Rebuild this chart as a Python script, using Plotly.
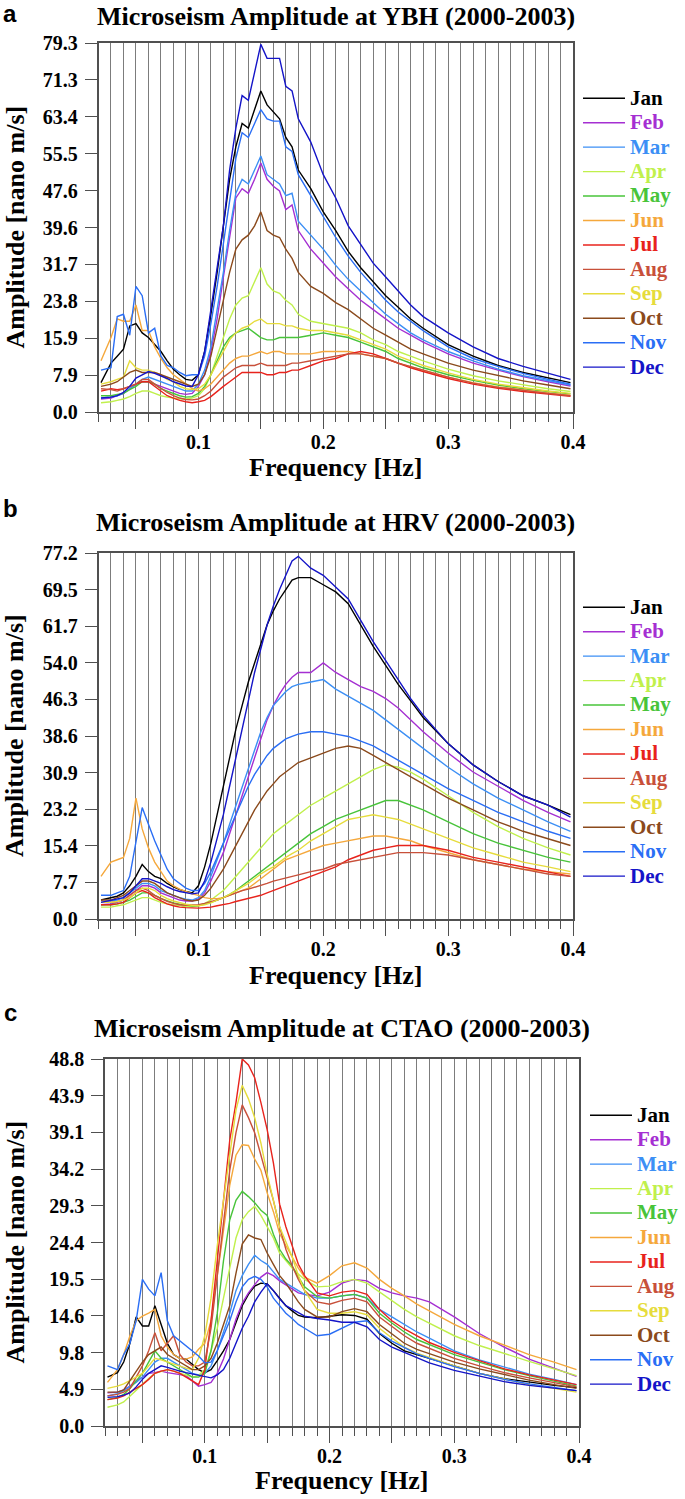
import plotly.graph_objects as go

# ---------------- data ----------------
FREQ = [0.022, 0.03, 0.035, 0.04, 0.045, 0.05, 0.055, 0.06, 0.065, 0.07, 0.075, 0.08, 0.085, 0.09, 0.095,
        0.1, 0.105, 0.11, 0.115, 0.12, 0.125, 0.13, 0.135, 0.14, 0.145, 0.15, 0.155, 0.16, 0.165, 0.17, 0.175, 0.18,
        0.19, 0.2, 0.21, 0.22, 0.23, 0.24, 0.25, 0.26, 0.27, 0.28,
        0.3, 0.32, 0.34, 0.36, 0.38, 0.398]

MONTHS = ["Jan", "Feb", "Mar", "Apr", "May", "Jun", "Jul", "Aug", "Sep", "Oct", "Nov", "Dec"]
COLORS = ["#000000", "#a52fd2", "#3c8ff5", "#c0f04c", "#48c43a", "#f5a83c",
          "#e8231c", "#c8503a", "#e6dc3c", "#8b4a1c", "#2a6ef5", "#1414c8"]

TITLES = ["Microseism Amplitude at YBH (2000-2003)",
          "Microseism Amplitude at HRV (2000-2003)",
          "Microseism Amplitude at CTAO (2000-2003)"]
PANEL_LETTERS = ["a", "b", "c"]
Y_MAX = [79.3, 77.2, 48.8]
YBH_YTICKS = ["0.0", "7.9", "15.9", "23.8", "31.7", "39.6", "47.6", "55.5", "63.4", "71.3", "79.3"]
HRV_YTICKS = ["0.0", "7.7", "15.4", "23.2", "30.9", "38.6", "46.3", "54.0", "61.7", "69.5", "77.2"]
CTAO_YTICKS = ["0.0", "4.9", "9.8", "14.6", "19.5", "24.4", "29.3", "34.2", "39.1", "43.9", "48.8"]
X_TICK_VALUES = [0.05, 0.1, 0.15, 0.2, 0.25, 0.3, 0.35, 0.4]
X_TICK_TEXT = ["", "0.1", "", "0.2", "", "0.3", "", "0.4"]
X_TITLE = "Frequency [Hz]"
Y_TITLE = "Amplitude [nano m/s]"

# YBH
ybh_jan = [6.3, 10.5, 12, 13.5, 18.5, 19, 17, 16, 14.5, 13, 11, 9.2, 8, 7, 6.8,
           8, 13, 21, 30, 40, 50, 57, 62, 61, 65, 69, 66, 64.5, 63, 59, 57, 52,
           48, 43, 39, 34.5, 31, 28, 25, 22.5, 20, 18,
           14.5, 12, 10, 8.5, 7.3, 6.3]
ybh_feb = [2.8, 3, 3.5, 4, 5, 6, 6.5, 6.5, 6, 5.5, 5, 4.5, 4, 3.8, 4,
           5.5, 8, 13, 20, 29, 38, 46, 48, 47, 50, 53.5, 50, 48.5, 47.5, 43.5, 44.5, 39,
           35, 32, 29, 26.5, 24, 22, 20, 18, 16.5, 15,
           12.5, 10.5, 9, 7.6, 6.5, 5.6]
ybh_mar = [3, 3.2, 3.5, 4, 5, 6, 7, 7.5, 7, 6.5, 6, 5.5, 5, 4.5, 4.5,
           6, 9, 14, 22, 30, 39, 47, 50, 49, 52, 55, 51, 50, 49, 46.5, 47, 41,
           38, 35, 31.5, 28.5, 26, 23.5, 21, 19, 17, 15.5,
           13, 11, 9.2, 7.8, 6.7, 5.8]
ybh_apr = [2, 2.2, 2.5, 2.8, 3.3, 4, 4.5, 4.5, 4, 3.5, 3.2, 3, 2.8, 2.8, 3,
           3.5, 5, 8, 12, 16, 20, 23, 24.5, 25, 28, 31, 27.5, 26, 25.5, 24, 23, 21,
           19.5, 19, 18.5, 18, 17, 15.5, 14.5, 13, 12, 11,
           9.2, 7.8, 6.7, 5.8, 5, 4.4]
ybh_may = [3.5, 3.5, 3.8, 4, 4.8, 5.5, 6.5, 6.5, 6, 5, 4.5, 4, 3.5, 3.2, 3.3,
           4, 5.5, 8, 11, 14, 16, 17, 17.5, 18, 17, 16, 15.5, 15.5, 16, 16, 16, 16,
           16.5, 17, 16.5, 16, 15, 14, 13, 11.5, 10.5, 9.5,
           8, 6.8, 5.8, 5, 4.4, 3.9]
ybh_jun = [11, 16, 20, 19.5, 19.5, 23, 17.5, 17.5, 14, 11.5, 9.5, 8, 7, 6, 5,
           4.5, 5, 6, 7.5, 9, 10.5, 11.5, 12, 12, 12.5, 13, 12.5, 13, 13, 12.5, 12.5, 12.5,
           12.5, 13, 13, 13, 12.5, 12, 11.5, 10.5, 9.8, 9,
           7.5, 6.3, 5.4, 4.7, 4.1, 3.6]
ybh_jul = [4.5, 5, 4.8, 5, 5.5, 6, 6.5, 6.5, 5.5, 4.5, 3.5, 3, 2.5, 2.2, 2,
           2.2, 2.5, 3.3, 4.5, 5.5, 6.5, 7.5, 8.5, 8.5, 8.5, 8.5, 8, 8, 8.5, 8.5, 9, 9,
           10, 11, 11.5, 12.5, 13, 12.5, 11.5, 10.5, 9.5, 8.7,
           7.2, 6, 5.1, 4.4, 3.9, 3.4]
ybh_aug = [5, 4.8, 4.5, 5, 5.5, 6, 7, 7, 6, 5, 4.2, 3.5, 3, 2.7, 2.6,
           2.8, 3.5, 4.5, 6, 7.5, 8.5, 9.5, 10, 10, 10, 10.5, 10, 10, 10, 10, 10.5, 10.5,
           11, 11.5, 12, 12.5, 12.5, 12, 11.5, 10.5, 9.7, 9,
           7.5, 6.2, 5.3, 4.6, 4, 3.5]
ybh_sep = [6, 6.5, 7, 7.5, 11, 9.5, 9, 9, 8.5, 8, 7, 6.5, 5.5, 5, 4.8,
           5, 6, 8, 10.5, 13, 15.5, 17, 18, 18.5, 19.5, 20, 19, 19, 19, 18.5, 18.5, 18,
           17.5, 17.5, 17, 16.5, 15.5, 14.5, 13.5, 12, 11, 10,
           8.4, 7, 6, 5.2, 4.5, 4]
ybh_oct = [5.5, 6, 6.5, 7.5, 8.5, 9, 8.5, 8.5, 8.5, 8, 7.5, 7, 6.5, 6, 5.5,
           6, 8, 12, 18, 24, 30, 35, 37, 38, 40, 43, 39, 38, 37.5, 35, 33, 30,
           27, 25.5, 23.5, 22, 20, 18, 16.5, 15, 13.5, 12.5,
           10.5, 9, 7.8, 6.7, 5.8, 5]
ybh_nov = [9, 9.5, 20.5, 21, 16.5, 27, 25, 17, 18, 12, 10, 9.5, 8.5, 7.8, 8,
           8, 12, 19, 27, 36, 46, 54.5, 60, 59, 62, 65, 63, 62.5, 62.5, 57, 56, 51,
           46.5, 42, 37.5, 33.5, 30, 27, 24, 21.5, 19.5, 17.5,
           14, 11.5, 9.8, 8.3, 7, 6]
ybh_dec = [3, 3.2, 3.5, 4.2, 5.5, 7.3, 8, 8.7, 8.3, 7.8, 7.2, 6.5, 6, 5.6, 5.5,
           8, 13, 22, 31, 40, 52, 61, 68, 67, 73, 79, 76, 76, 76, 70, 69, 63,
           58, 51, 46, 40, 36, 32, 29, 26, 23, 20.5,
           17, 14, 11.5, 9.8, 8.3, 7]

# HRV
hrv_jan = [4, 4.5, 4.8, 5.5, 7, 9, 11.5, 10, 9, 8.5, 7.5, 6.8, 6.2, 5.8, 5.5,
           7, 11, 16, 22, 28, 34, 40, 45, 50, 54, 58, 62, 65, 67.5, 69.5, 71.5, 72,
           72, 70.5, 69, 66.5, 62, 57.5, 53.5, 49.5, 46, 42.5,
           37, 32.5, 29, 26, 24, 22]
hrv_feb = [3, 3.2, 3.5, 4, 5, 6, 7, 7, 6.5, 5.5, 5, 4.5, 4, 3.8, 3.8,
           4.2, 5.5, 8, 11, 14, 18, 22, 26, 30, 34, 38, 42, 45, 47.5, 49.5, 51, 52,
           52, 54, 52, 50.5, 49, 48, 46.5, 44.5, 42, 39.5,
           35, 31, 28, 25, 22.5, 20.5]
hrv_mar = [3.5, 3.8, 4, 4.5, 5.5, 6.5, 7.5, 7.5, 7, 6, 5.5, 5, 4.5, 4.2, 4,
           4.5, 6, 9, 12.5, 16, 20, 24, 28, 32, 36, 39.5, 42.5, 45, 46.5, 48, 49, 49.5,
           50, 50.5, 48.5, 47, 45.5, 44, 42, 40, 38, 36,
           32, 28.5, 25.5, 23, 20.5, 18.5]
hrv_apr = [2.5, 2.5, 2.8, 3, 3.5, 4, 4.5, 4.5, 4, 3.5, 3.2, 3, 2.8, 2.6, 2.6,
           2.8, 3.3, 4, 5, 6, 7.5, 9, 10.5, 12, 13.5, 15, 16.5, 18, 19, 20, 21, 22,
           24, 25.5, 27, 28.5, 30, 31.5, 32.5, 32, 31, 29.5,
           26, 22.5, 19.5, 17, 15, 13.5]
hrv_may = [3, 3, 3.2, 3.5, 4, 4.8, 5.5, 5.5, 5, 4.3, 3.8, 3.4, 3.1, 2.9, 2.8,
           2.8, 3.1, 3.5, 4, 4.5, 5.2, 6, 7, 8, 9, 10, 11, 12, 13, 14, 15, 16,
           18, 19.5, 21, 22, 23, 24, 25, 25, 24, 23,
           20.5, 18, 16, 14.5, 13, 12]
hrv_jun = [9, 12, 12.5, 13, 17, 25.5, 19, 15, 12, 10, 8, 7, 6.3, 5.8, 5.3,
           5, 4.5, 4.3, 4.3, 4.5, 5, 5.5, 6, 6.5, 7.5, 8.5, 9.5, 10.5, 11.5, 12.5, 13, 13.5,
           14.5, 15.5, 16, 16.5, 17, 17.5, 17.5, 17, 16.5, 15.5,
           14, 12.5, 11.5, 10.5, 10, 9.5]
hrv_jul = [3, 3, 3.2, 3.5, 4.5, 5.5, 6, 5.5, 4.5, 3.8, 3.2, 2.8, 2.5, 2.4, 2.3,
           2.3, 2.4, 2.5, 2.8, 3, 3.3, 3.7, 4, 4.3, 4.7, 5, 5.5, 6, 6.5, 7, 7.5, 8,
           9, 10, 11, 12.5, 13.5, 14.5, 15, 15.5, 15.5, 15.5,
           14.5, 13, 12, 11, 10, 9]
hrv_aug = [3.5, 3.5, 3.7, 4, 5, 6, 6.5, 6, 5, 4.3, 3.7, 3.3, 3, 2.9, 2.9,
           3, 3.3, 3.6, 4, 4.5, 5, 5.5, 6, 6.3, 6.7, 7, 7.5, 8, 8.3, 8.7, 9, 9.3,
           10, 10.5, 11.5, 12, 12.5, 13, 13.5, 14, 14, 14,
           13.5, 12.5, 11.5, 10.5, 9.5, 9]
hrv_sep = [3.5, 3.5, 3.7, 4, 4.5, 5.5, 6.5, 6.5, 6, 5, 4.3, 3.8, 3.4, 3.1, 2.9,
           2.8, 3, 3.4, 4, 4.5, 5.2, 6, 6.8, 7.5, 8.5, 9.5, 10.3, 11, 12, 13, 13.8, 14.5,
           16.5, 18, 19.5, 21, 21.5, 22, 21.5, 21, 20, 19,
           17, 15, 13.5, 12, 11, 10]
hrv_oct = [4, 4, 4.5, 5, 6, 7, 8, 8, 7.5, 6.5, 5.5, 5, 4.5, 4, 3.8,
           4, 5, 6.5, 8.5, 10.5, 13, 15.5, 18, 20.5, 23, 25, 27, 28.5, 30, 31, 32, 33,
           34, 35, 36, 36.5, 36, 34.5, 33, 31.5, 30, 28.5,
           25.5, 23, 20.5, 18.5, 17, 15.5]
hrv_nov = [5, 5, 5.5, 6, 9, 16, 23.5, 20, 16.5, 13.5, 10.5, 8.5, 7.5, 6.5, 6,
           6, 7.5, 10, 13, 16, 19, 22, 25, 28, 30.5, 32.5, 34.5, 36, 37, 38, 38.5, 39,
           39.5, 39.5, 39, 38.5, 37.5, 36.5, 35, 33.5, 32, 30.5,
           27.5, 25, 22.5, 20.5, 18.5, 17]
hrv_dec = [3.5, 4, 4.2, 4.5, 5.5, 7, 8.5, 8.5, 8, 7.5, 6.8, 6.2, 5.8, 5.5, 5.3,
           5.5, 8, 12, 17, 22, 28, 34, 40, 46, 52, 57, 62, 66, 69.5, 72.5, 75.5, 76.5,
           74, 72.5, 70, 67.5, 63, 58.5, 54.5, 50.5, 46.5, 43,
           37, 32.5, 29, 26, 24, 21.5]

# CTAO
ctao_jan = [6.5, 7.1, 8.5, 11, 14.5, 13.3, 13.3, 16, 13.5, 11, 9.5, 9, 8.9, 8.2, 7.5,
            7.1, 7.5, 8.7, 10, 11.5, 13.8, 16, 17.5, 18.6, 19, 18.9, 18, 17, 16, 15.3, 14.7, 14.5,
            14.4, 14.6, 14.8, 14.7, 14.2, 12.3, 11, 10, 9.5, 9,
            8, 7, 6.3, 5.8, 5.4, 5.1]
ctao_feb = [4.4, 4.5, 4.8, 5.3, 6, 6.5, 7, 7.1, 7.3, 7.1, 7, 6.9, 6.7, 6, 5.3,
            5.5, 5.8, 7, 8.9, 11.5, 14.2, 16.3, 17.7, 18.8, 19.8, 20.4, 20, 19.3, 18.8, 18.2, 17.7, 17.5,
            17.3, 17.8, 19, 19.5, 19.3, 18.3, 17.7, 17.3, 17, 16.5,
            14.5, 12.3, 10.5, 8.9, 7.7, 6.6]
ctao_mar = [4, 4.3, 4.7, 5.2, 5.8, 6.5, 7.5, 8.5, 9, 9, 8.5, 8, 7.5, 7, 6.8,
            7, 8, 10, 12.5, 15, 18, 20, 21.5, 22.7, 22, 21.5, 20.5, 19.5, 19, 18.5, 18, 17.5,
            17, 17, 17.3, 17.5, 17, 15.5, 14.5, 13.5, 12.5, 11.7,
            10, 8.8, 7.8, 6.9, 6.2, 5.5]
ctao_apr = [2.5, 2.8, 3.2, 4, 4.7, 5.5, 6.3, 7, 7.3, 7.5, 7.3, 7, 6.8, 6.5, 6.7,
            7.5, 10, 13, 17, 21, 25, 27.4, 28.5, 29.2, 28, 26.5, 25, 23, 22, 21, 20.2, 19.5,
            18.5, 18.6, 19.2, 19.5, 19, 17.8, 16.6, 15.5, 14.5, 13.7,
            12, 10.7, 9.6, 8.6, 7.6, 6.7]
ctao_may = [3.5, 3.8, 4.2, 5, 6, 7, 8.5, 10, 9, 8.5, 8, 7.5, 7, 6.5, 6.5,
            7, 10, 15, 22, 27.4, 30, 31.2, 30.5, 29.7, 28.7, 28, 25.5, 23.5, 22.2, 21.3, 19.8, 18.5,
            17.2, 17, 17.3, 17.5, 17, 15, 13.7, 12.5, 11.5, 10.8,
            9.5, 8.5, 7.5, 6.7, 6, 5.3]
ctao_jun = [5.8, 7.5, 9.5, 12, 14, 14.6, 15, 15.5, 12, 10.5, 9.5, 9, 8.9, 9.2, 10.2,
            11, 14, 20, 26.5, 32, 36, 37.4, 37.3, 35.5, 34, 31, 28.5, 25.6, 24, 22.5, 21, 19.8,
            19, 20, 21.3, 21.7, 21, 19.5, 18.3, 17.3, 16.2, 15.3,
            13.5, 12, 10.7, 9.5, 8.5, 7.5]
ctao_jul = [3.5, 3.7, 4, 4.5, 5, 5.5, 6.2, 7, 7.3, 7.5, 7.3, 7, 6.5, 6, 5.5,
            7.5, 14, 22, 30, 38, 43, 48.8, 48, 46.3, 43, 39.4, 35, 29.5, 26.5, 24, 21.5, 20,
            17.7, 17.3, 17.8, 18, 17.5, 15.5, 14, 12.9, 12, 11.1,
            9.8, 8.7, 7.6, 6.8, 6.1, 5.5]
ctao_aug = [4, 4.2, 4.5, 5, 6.5, 8, 10, 12.4, 10, 11, 12, 9.5, 8.5, 8, 8,
            8.5, 13, 20, 27, 34, 39, 42.7, 41, 39, 36, 33, 30, 26.5, 23.5, 21.3, 19.5, 18,
            16.5, 16.2, 16.7, 17, 16.5, 14.5, 13.2, 12, 11, 10.3,
            9, 8, 7.1, 6.4, 5.8, 5.2]
ctao_sep = [5, 5.3, 5.6, 6, 6.5, 7, 8, 9, 8.8, 8.5, 8.2, 8, 7.7, 7.5, 9,
            12, 17, 24, 30, 36, 42, 45.3, 43.5, 41, 37.6, 33.5, 30, 26.5, 24.5, 22.5, 20, 18,
            15.5, 15, 15, 15.2, 14.8, 13, 11.7, 10.5, 9.7, 9.1,
            8, 7, 6.2, 5.5, 5, 4.5]
ctao_oct = [4.5, 4.5, 4.8, 6, 7.2, 8.5, 9.5, 10, 10.5, 9.5, 9, 8.5, 8, 7.5, 7.5,
            8, 9, 11, 13.5, 16, 20.3, 24.2, 25.4, 25, 24.8, 23, 21.5, 20, 19, 17.7, 16.5, 15.5,
            14.5, 14.5, 15.2, 15.6, 15.2, 13.5, 12.2, 11, 10.2, 9.6,
            8.5, 7.6, 6.8, 6.1, 5.5, 5]
ctao_nov = [8, 7.5, 9.5, 11, 14, 19.5, 18.2, 17.3, 20.4, 14, 12, 11.3, 10.6, 10, 9.3,
            8.4, 8.5, 10, 12, 14, 16.5, 18.5, 19.5, 19.9, 19.5, 18.5, 17, 16, 15, 14.3, 13.5, 13,
            12, 12.2, 13, 13.8, 14, 12.4, 11.3, 10.5, 9.6, 9,
            7.9, 7, 6.2, 5.6, 5.1, 4.7]
ctao_dec = [3.8, 3.9, 4.1, 4.4, 5.2, 6.2, 7, 7.5, 8, 7.8, 7.5, 7.3, 7.1, 6.9, 6.7,
            6.5, 6.4, 6.8, 7.5, 9, 11, 13, 14.6, 16.5, 17.8, 18.9, 18, 16.9, 16, 15.5, 15, 14.6,
            14.3, 14.1, 13.8, 13.8, 13.2, 11.5, 10.5, 9.8, 9, 8.4,
            7.4, 6.6, 5.9, 5.4, 5, 4.7]

YBH = [ybh_jan, ybh_feb, ybh_mar, ybh_apr, ybh_may, ybh_jun, ybh_jul, ybh_aug, ybh_sep, ybh_oct, ybh_nov, ybh_dec]
HRV = [hrv_jan, hrv_feb, hrv_mar, hrv_apr, hrv_may, hrv_jun, hrv_jul, hrv_aug, hrv_sep, hrv_oct, hrv_nov, hrv_dec]
CTAO = [ctao_jan, ctao_feb, ctao_mar, ctao_apr, ctao_may, ctao_jun, ctao_jul, ctao_aug, ctao_sep, ctao_oct, ctao_nov, ctao_dec]
SERIES = [YBH, HRV, CTAO]
YTICKS = [YBH_YTICKS, HRV_YTICKS, CTAO_YTICKS]

for station in SERIES:
    for s in station:
        assert len(s) == len(FREQ), len(s)

# ---------------- layout geometry (pixels, page coordinates) ----------------
W, H = 685, 1499
SERIF = "Liberation Serif, Times New Roman, serif"
SANS = "Liberation Sans, Arial, sans-serif"
GRID = "#7c7c7c"
AXC = "#505050"

# plot boxes: left, right, top, bottom
BOXES = [(98.5, 573.0, 43.0, 412.0),
         (98.5, 573.0, 553.0, 919.0),
         (105.0, 579.0, 1059.0, 1426.0)]
LEGEND_POS = [(578, 81), (578, 590), (585, 1098)]
TITLE_Y = [16, 522, 1028]
LETTER_Y = [14, 508, 1012]
XTITLE_Y = [467, 975, 1480]


def px(x):
    return x / W


def py(y):
    return 1 - y / H


fig = go.Figure()
layout = dict(width=W, height=H, autosize=False,
              margin=dict(l=0, r=0, t=0, b=0, pad=0, autoexpand=False),
              paper_bgcolor="white", plot_bgcolor="white", annotations=[])

for i in range(3):
    n = "" if i == 0 else str(i + 1)
    xa, ya = "x" + n, "y" + n
    lg = "legend" + n
    for m, c, vals in zip(MONTHS, COLORS, SERIES[i]):
        fig.add_trace(go.Scatter(
            x=FREQ, y=vals, mode="lines", xaxis=xa, yaxis=ya, legend=lg,
            line=dict(color=c, width=1.4),
            name="<span style='color:%s;font-size:21px'>%s</span>" % (c, m)))
    l, r, t, b = BOXES[i]
    ymax = Y_MAX[i]
    layout["xaxis" + n] = dict(
        domain=[px(l), px(r)], anchor=ya, range=[0.02, 0.4],
        tickmode="array", tickvals=X_TICK_VALUES, ticktext=X_TICK_TEXT,
        ticks="outside", ticklen=15, tickwidth=1.3, tickcolor=AXC,
        ticklabelstandoff=-4,
        tickfont=dict(family=SERIF, size=20, color="black", weight="bold"),
        showgrid=True, gridcolor=GRID, gridwidth=1.2,
        minor=dict(tickmode="linear", tick0=0, dtick=0.01, ticks="outside", ticklen=8,
                   tickwidth=1.3, tickcolor=AXC, showgrid=True, gridcolor=GRID, gridwidth=1.2),
        showline=True, linecolor=AXC, linewidth=1.5, mirror=True, zeroline=False,
        automargin=False, fixedrange=True)
    layout["yaxis" + n] = dict(
        domain=[py(b), py(t)], anchor=xa, range=[0, ymax],
        tickmode="array", tickvals=[ymax * k / 10 for k in range(11)], ticktext=YTICKS[i],
        ticks="outside", ticklen=12, tickwidth=1.3, tickcolor=AXC,
        ticklabelstandoff=3,
        tickfont=dict(family=SERIF, size=20, color="black", weight="bold"),
        showgrid=False, showline=True, linecolor=AXC, linewidth=1.5, mirror=True, zeroline=False,
        automargin=False, fixedrange=True)
    lx, ly = LEGEND_POS[i]
    layout[lg] = dict(x=px(lx), y=py(ly), xanchor="left", yanchor="top",
                      font=dict(family=SERIF, size=16.5, color="black", weight="bold"),
                      bgcolor="rgba(0,0,0,0)", borderwidth=0, itemwidth=42,
                      tracegroupgap=0)
    cx = (l + r) / 2
    layout["annotations"] += [
        dict(text=TITLES[i], x=px(cx), y=py(TITLE_Y[i]), xref="paper", yref="paper",
             showarrow=False, xanchor="center", yanchor="middle",
             font=dict(family=SERIF, size=26, color="black", weight="bold")),
        dict(text=PANEL_LETTERS[i], x=px(10), y=py(LETTER_Y[i]), xref="paper", yref="paper",
             showarrow=False, xanchor="center", yanchor="middle",
             font=dict(family=SANS, size=24, color="black", weight="bold")),
        dict(text=X_TITLE, x=px(cx), y=py(XTITLE_Y[i]), xref="paper", yref="paper",
             showarrow=False, xanchor="center", yanchor="middle",
             font=dict(family=SERIF, size=26, color="black", weight="bold")),
        dict(text=Y_TITLE, x=px(15), y=py((t + b) / 2), xref="paper", yref="paper",
             showarrow=False, xanchor="center", yanchor="middle", textangle=-90,
             font=dict(family=SERIF, size=26, color="black", weight="bold")),
    ]

fig.update_layout(**layout)
# remove the browser's default 8px page margin so the figure sits at the page origin
fig.write_html("out.html", config={"displayModeBar": False},
               post_script="document.body.style.margin='0px';")
